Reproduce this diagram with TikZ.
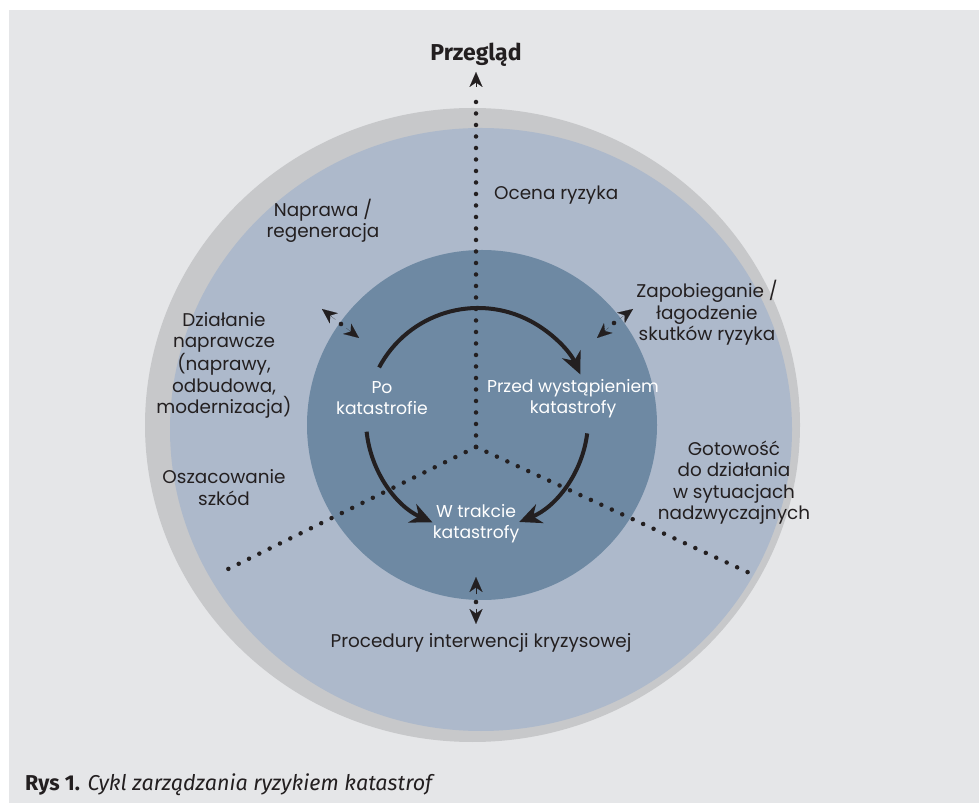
\documentclass[tikz,border=0pt]{standalone}
\usepackage{fontspec}
\setmainfont{Poppins}
\newfontfamily\capfont{Fira Sans}
\usetikzlibrary{arrows.meta,calc}
\definecolor{bgc}{HTML}{E5E6E8}
\definecolor{ringc}{HTML}{C7C8CA}
\definecolor{bluec}{HTML}{ADB9CB}
\definecolor{darkc}{HTML}{6E89A3}
\definecolor{ink}{HTML}{231F20}
\begin{document}
\begin{tikzpicture}[x=1pt,y=1pt,
  dotline/.style={line width=4.5pt, dash pattern=on 0pt off 11.5pt, line cap=round, draw=ink},
  cyc/.style={line width=4pt, draw=ink, -{Stealth[length=22pt,width=20pt,inset=7pt]}},
  smallarr/.style={line width=0.1pt, draw=ink, -{Stealth[length=15pt,width=13pt,inset=4.5pt]}},
  lbl/.style={font=\fontsize{18.4}{21.5}\selectfont, text=ink, align=center, inner sep=0pt},
  wlbl/.style={lbl, font=\fontsize{17.2}{21}\selectfont, text=white}]
\useasboundingbox (0,0) rectangle (979,803);
\fill[white] (0,0) rectangle (979,803);
\fill[bgc] (9,0) rectangle (979,793);
% circles
\fill[ringc] (472.5,378) ellipse [x radius=327.5, y radius=317];
\fill[bluec] (481,373.5) ellipse [x radius=311, y radius=301.5];
\coordinate (dc) at (482,378);
\fill[darkc] (dc) circle (175);
% dotted spokes
\coordinate (yc) at (476,356);
\coordinate (ytop) at (476,708);
\coordinate (ytipb) at (476,716);
\coordinate (ytip) at (476,731);
\coordinate (yl) at (220,230);
\coordinate (yr) at (756,227);
\draw[dotline] (yc) -- (ytop);
\draw[dotline] (yc) -- (yl);
\draw[dotline] (yc) -- (yr);
\draw[smallarr] (ytipb) -- (ytip);
% cycle arrows
\coordinate (ac) at (478,383);
\draw[cyc] ($(ac)+(152:112)$) arc[start angle=152, end angle=24, radius=112];
\draw[cyc] ($(ac)+(186:112)$) arc[start angle=186, end angle=246, radius=112];
\draw[cyc] ($(ac)+(-7:110)$) arc[start angle=-7, end angle=-68, radius=110];
% double arrows at the inner circle
\coordinate (d1) at (341,479); \coordinate (d1a) at (322,494); \coordinate (d1b) at (359,465);
\coordinate (d2) at (614,480); \coordinate (d2a) at (633,494); \coordinate (d2b) at (597,465);
\coordinate (d3) at (476,201); \coordinate (d3a) at (476,226); \coordinate (d3b) at (476,179);
\foreach \d in {d1,d2,d3}{
  \fill[ink] (\d) circle (2.3);
  \draw[smallarr] ($(\d)!0.3!(\d a)$) -- (\d a);
  \draw[smallarr] ($(\d)!0.3!(\d b)$) -- (\d b);
}
% labels
\node[lbl, font=\capfont\bfseries\fontsize{23}{26}\selectfont] (przeglad) at (476,748) {Przegląd};
\node[lbl, anchor=west] (ocena) at (494,608) {Ocena ryzyka};
\node[lbl] (naprawa) at (323,582) {Naprawa /\\regeneracja};
\node[lbl] (dzialanie) at (224,437.5) {Działanie\\naprawcze\\(naprawy,\\odbudowa,\\modernizacja)};
\node[lbl] (oszac) at (224,315.5) {Oszacowanie\\szkód};
\node[lbl] (zapob) at (707,490) {Zapobieganie /\\łagodzenie\\skutków ryzyka};
\node[lbl] (gotow) at (734,320.5) {Gotowość\\do działania\\w sytuacjach\\nadzwyczajnych};
\node[lbl] (proc) at (481,160) {Procedury interwencji kryzysowej};
\node[wlbl] (po) at (382,404.5) {Po\\katastrofie};
\node[wlbl] (przed) at (573,404.5) {Przed wystąpieniem\\katastrofy};
\node[wlbl] (wtrak) at (476,279.5) {W trakcie\\katastrofy};
\node[lbl, anchor=base west, font=\capfont\fontsize{21.5}{24}\selectfont] (cap) at (25,13) {\textbf{Rys 1.} \textit{Cykl zarządzania ryzykiem katastrof}};
\end{tikzpicture}
\end{document}
